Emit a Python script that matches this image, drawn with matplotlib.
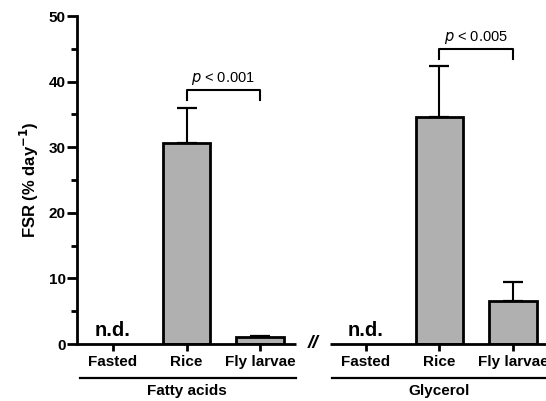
import numpy as np
import matplotlib
matplotlib.use("Agg")
import matplotlib.pyplot as plt

plt.rcParams['font.family'] = ['Liberation Sans', 'DejaVu Sans']

categories = ["Fasted", "Rice", "Fly larvae"]
groups = ["Fatty acids", "Glycerol"]
fa_means = [np.nan, 30.6, 1.0]
fa_err = [np.nan, 5.4, 0.25]
gly_means = [np.nan, 34.6, 6.55]
gly_err = [np.nan, 7.8, 2.9]
p_labels = ["< 0.001", "< 0.005"]
yticks = [0, 10, 20, 30, 40, 50]

fig = plt.figure(figsize=(5.46, 4.01), dpi=100)
ax = fig.add_axes([77/546, 1-344/401, 1-77/546, 328/401])

fa_x = np.array([0, 1, 2], dtype=float)
gly_x = fa_x + 3.44
width = 0.65
lw = 2.0
gray = "#b0b0b0"

for xs, means, errs in [(fa_x, fa_means, fa_err), (gly_x, gly_means, gly_err)]:
    for x, m, e in zip(xs, means, errs):
        if np.isnan(m):
            ax.text(x, 0.6, "n.d.", ha="center", va="bottom", fontsize=14.5, fontweight="bold")
            continue
        ax.errorbar(x, m, yerr=[[0], [e]], fmt="none", ecolor="black",
                    elinewidth=1.5, capsize=7.5, capthick=1.6, zorder=1)
        ax.bar(x, m, width=width, color=gray, edgecolor="black", linewidth=lw, zorder=2)

ax.set_ylim(0, 50)
ax.set_xlim(-0.49, 5.89)
ax.set_yticks(yticks)
ax.set_yticks([5, 15, 25, 35, 45], minor=True)
ax.tick_params(axis="y", which="major", length=7, width=lw, labelsize=11, pad=1)
ax.tick_params(axis="y", which="minor", length=4.5, width=lw)
for lab in ax.get_yticklabels():
    lab.set_fontweight("bold")
ax.set_xticks(np.concatenate([fa_x, gly_x]))
ax.set_xticklabels(categories + categories, fontsize=11, fontweight="bold")
ax.tick_params(axis="x", length=5, width=lw, pad=3)

for s in ["top", "right", "bottom"]:
    ax.spines[s].set_visible(False)
ax.spines["left"].set_linewidth(lw)

# broken x-axis segments
ax.plot([-0.49, 2.49], [0, 0], color="black", lw=lw, clip_on=False, zorder=3, solid_capstyle="butt")
ax.plot([2.95, 5.95], [0, 0], color="black", lw=lw, clip_on=False, zorder=3, solid_capstyle="butt")
ax.text(2.72, 0, "//", ha="center", va="center", fontsize=14, fontweight="bold", style="italic")

ax.set_ylabel("FSR (% day$^{\\mathbf{-1}}$)", fontsize=12, fontweight="bold", labelpad=6)

# group lines and labels
trans = ax.get_xaxis_transform()
ax.plot([-0.45, 2.49], [-0.104, -0.104], color="black", lw=1.6, transform=trans, clip_on=False)
ax.plot([2.98, 5.95], [-0.104, -0.104], color="black", lw=1.6, transform=trans, clip_on=False)
ax.text(1.0, -0.142, groups[0], transform=trans, ha="center", va="center", fontsize=11, fontweight="bold")
ax.text(4.44, -0.142, groups[1], transform=trans, ha="center", va="center", fontsize=11, fontweight="bold")

# significance brackets
for xs, ytop, yleg, lab in [(fa_x, 38.7, 37.2, p_labels[0]), (gly_x, 44.9, 43.4, p_labels[1])]:
    x1, x2 = xs[1], xs[2]
    ax.plot([x1, x1, x2, x2], [yleg, ytop, ytop, yleg], color="black", lw=1.5, clip_on=False)
    ax.text((x1 + x2) / 2, ytop + 0.5, "$\\it{p}$ " + lab, ha="center", va="bottom", fontsize=10.5)

fig.savefig("out.png", dpi=100)
